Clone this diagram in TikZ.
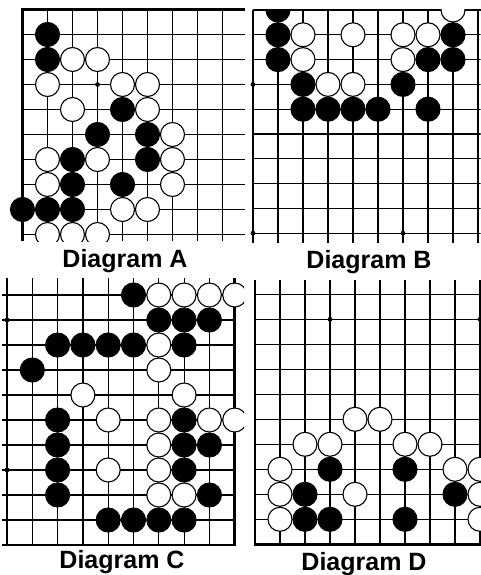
\documentclass[tikz,border=0pt]{standalone}
\usepackage{fontspec}
\setmainfont{Liberation Sans}
\newcommand{\capfont}{\fontsize{25}{30}\selectfont\bfseries}

\begin{document}
\begin{tikzpicture}[
  x=1pt, y=-1pt,
  grid/.style={line width=1.2pt},
  edge/.style={line width=2.6pt},
  bstone/.style={fill=black, draw=black, line width=1.1pt},
  wstone/.style={fill=white, draw=black, line width=1.1pt},
  hoshi/.style={fill=black},
  caption/.style={font=\capfont, anchor=base, inner sep=0pt},
]
  \useasboundingbox[fill=white] (0,0) rectangle (480,575);

  % Diagram A: upper left corner
  \begin{scope}[shift={(22.5,9.5)}, x=25pt, y=-25pt]
    \clip (-1,-0.5) rectangle (8.9,9.26);
    \foreach \i in {1,...,9} \draw[grid] (0,\i) -- (8.9,\i);
    \foreach \i in {1,...,8} \draw[grid] (\i,0) -- (\i,9.26);
    \draw[edge] (0,9.26) -- (0,0) -- (8.9,0);
    \fill[hoshi] (3,3) circle[radius=2.4pt];
    \foreach \c/\r in {1/1,1/2,4/4,3/5,5/5,2/6,5/6,2/7,4/7,0/8,1/8,2/8}
      \draw[bstone] (\c,\r) circle[radius=12pt];
    \foreach \c/\r in {2/2,3/2,1/3,4/3,5/3,2/4,5/4,6/5,1/6,3/6,6/6,1/7,6/7,4/8,5/8,1/9,2/9,3/9}
      \draw[wstone] (\c,\r) circle[radius=12pt];
  \end{scope}

  % Diagram B: top side
  \begin{scope}[shift={(253,10)}, x=25pt, y=-24.8pt]
    \draw[edge] (0,0) -- (9.1,0);
    \clip (-0.1,0) rectangle (9.1,9.4);
    \foreach \i in {1,...,9} \draw[grid] (0,\i) -- (9.1,\i);
    \foreach \i in {0,...,9} \draw[grid] (\i,0) -- (\i,9.4);
    \foreach \c/\r in {0/3,0/9,6/9} \fill[hoshi] (\c,\r) circle[radius=2.4pt];
    \foreach \c/\r in {1/0,1/1,8/1,1/2,7/2,8/2,2/3,6/3,2/4,3/4,4/4,5/4,7/4}
      \draw[bstone] (\c,\r) circle[radius=12pt];
    \foreach \c/\r in {8/0,2/1,4/1,6/1,7/1,2/2,6/2,3/3,4/3}
      \draw[wstone] (\c,\r) circle[radius=12pt];
  \end{scope}

  % Diagram C: lower right corner
  \begin{scope}[shift={(7,295)}, x=25.3pt, y=-25pt]
    \clip (-0.3,-0.7) rectangle (9.37,10.2);
    \foreach \i in {0,...,9} \draw[grid] (-0.2,\i) -- (9,\i);
    \foreach \i in {0,...,8} \draw[grid] (\i,-0.68) -- (\i,10);
    \draw[edge] (-0.2,10) -- (9,10) -- (9,-0.68);
    \foreach \r in {1,7} \fill[hoshi] (0,\r) circle[radius=2.4pt];
    \foreach \c/\r in {5/0,6/1,7/1,8/1,2/2,3/2,4/2,5/2,7/2,1/3,2/5,7/5,2/6,7/6,8/6,2/7,7/7,2/8,8/8,4/9,5/9,6/9,7/9}
      \draw[bstone] (\c,\r) circle[radius=12pt];
    \foreach \c/\r in {6/0,7/0,8/0,9/0,6/2,6/3,3/4,7/4,4/5,6/5,8/5,9/5,6/6,4/7,6/7,6/8,7/8}
      \draw[wstone] (\c,\r) circle[radius=12pt];
  \end{scope}

  % Diagram D: lower left corner
  \begin{scope}[shift={(255,294.3)}, x=25pt, y=-25pt]
    \clip (-0.2,-0.6) rectangle (9.1,10.2);
    \foreach \i in {0,...,9} \draw[grid] (0,\i) -- (9.1,\i);
    \foreach \i in {1,...,9} \draw[grid] (\i,-0.57) -- (\i,10);
    \draw[edge] (0,-0.57) -- (0,10) -- (9.1,10);
    \foreach \c in {3,9} \fill[hoshi] (\c,1) circle[radius=2.4pt];
    \foreach \c/\r in {3/7,6/7,2/8,8/8,2/9,3/9,6/9}
      \draw[bstone] (\c,\r) circle[radius=12pt];
    \foreach \c/\r in {4/5,5/5,2/6,3/6,6/6,7/6,1/7,8/7,9/7,1/8,4/8,9/8,1/9,9/9}
      \draw[wstone] (\c,\r) circle[radius=12pt];
  \end{scope}

  \node[caption] (capA) at (125,267) {Diagram A};
  \node[caption] (capB) at (369,268) {Diagram B};
  \node[caption] (capC) at (122,568) {Diagram C};
  \node[caption] (capD) at (364,570) {Diagram D};
\end{tikzpicture}
\end{document}
